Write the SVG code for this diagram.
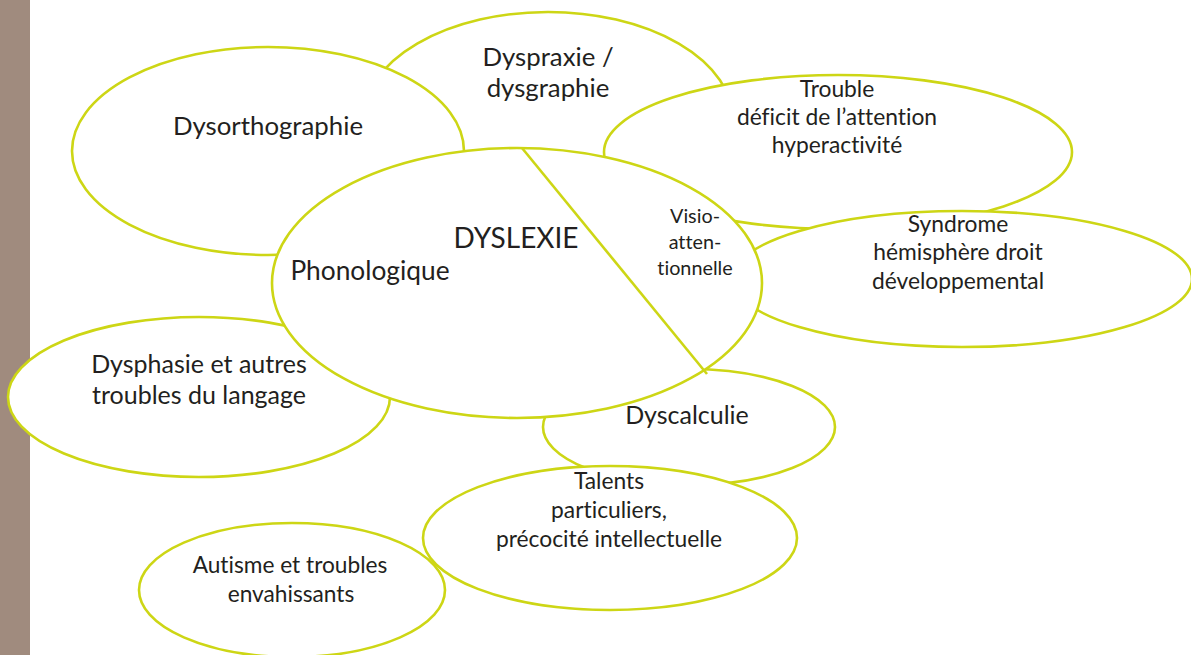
<svg xmlns="http://www.w3.org/2000/svg" width="1191" height="655" viewBox="0 0 1191 655">
<style>
.n{fill:#fff;stroke:#cdd615;stroke-width:2.6}
.t{font-family:Lato,"Open Sans",sans-serif;fill:#231f20;text-anchor:middle;font-variant-ligatures:no-common-ligatures}
</style>
<rect x="0" y="0" width="1191" height="655" fill="#fff"/>
<rect x="0" y="0" width="30" height="655" fill="#a08b7e"/>
<g id="dyspraxie"><ellipse class="n" cx="548" cy="120" rx="185" ry="108"/></g>
<g id="dysorthographie"><ellipse class="n" cx="268" cy="151" rx="196" ry="104"/></g>
<g id="tdah"><ellipse class="n" cx="838" cy="152" rx="234" ry="77"/></g>
<g id="syndrome"><ellipse class="n" cx="962" cy="279" rx="230" ry="68"/></g>
<g id="dysphasie"><ellipse class="n" cx="199" cy="397" rx="191" ry="80"/></g>
<g id="dyscalculie"><ellipse class="n" cx="689" cy="427" rx="146" ry="58"/></g>
<g id="dyslexie"><ellipse class="n" cx="517" cy="283" rx="245" ry="135"/></g>
<g id="connectors"><line x1="522" y1="148" x2="707" y2="374" stroke="#cdd615" stroke-width="2.6"/></g>
<g id="autisme"><ellipse class="n" cx="292" cy="590" rx="153" ry="67"/></g>
<g id="talents"><ellipse class="n" cx="610" cy="538" rx="187" ry="72"/></g>
<g id="labels">
<text class="t" x="268" y="135" font-size="25.8">Dysorthographie</text>
<text class="t" x="548" y="66" font-size="25.8">Dyspraxie /</text>
<text class="t" x="548" y="97" font-size="25.8">dysgraphie</text>
<text class="t" x="516" y="248" font-size="28">DYSLEXIE</text>
<text class="t" x="370" y="280" font-size="26.3">Phonologique</text>
<text class="t" x="695" y="223" font-size="19.8">Visio-</text>
<text class="t" x="695" y="249" font-size="19.8">atten-</text>
<text class="t" x="695" y="275" font-size="19.8">tionnelle</text>
<text class="t" x="837" y="97" font-size="22.8">Trouble</text>
<text class="t" x="837" y="125" font-size="22.8">déficit de l’attention</text>
<text class="t" x="837" y="153" font-size="22.8">hyperactivité</text>
<text class="t" x="958" y="232" font-size="22.8">Syndrome</text>
<text class="t" x="958" y="260" font-size="22.8">hémisphère droit</text>
<text class="t" x="958" y="289" font-size="22.8">développemental</text>
<text class="t" x="199" y="373" font-size="25">Dysphasie et autres</text>
<text class="t" x="199" y="404" font-size="25">troubles du langage</text>
<text class="t" x="687" y="424" font-size="25">Dyscalculie</text>
<text class="t" x="609" y="489" font-size="22.8">Talents</text>
<text class="t" x="609" y="518" font-size="22.8">particuliers,</text>
<text class="t" x="609" y="547" font-size="22.8">précocité intellectuelle</text>
<text class="t" x="290" y="573" font-size="22.7">Autisme et troubles</text>
<text class="t" x="291" y="602" font-size="22.7">envahissants</text>
</g>
</svg>
